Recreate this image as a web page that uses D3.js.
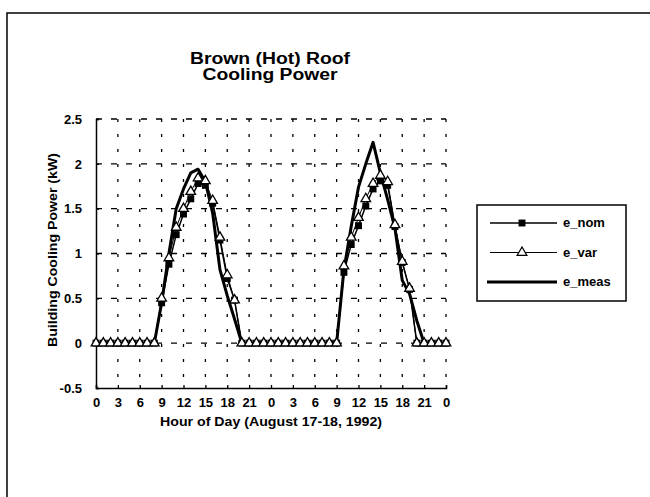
<!DOCTYPE html>
<html>
<head>
<meta charset="utf-8">
<script src="https://cdn.jsdelivr.net/npm/d3@7"></script>
<style>
  body { margin: 0; background: #fff; }
  text { font-family: "Liberation Sans", Arial, sans-serif; font-weight: bold; fill: #000; }
</style>
</head>
<body>
<script>
width  = 650
height = 497

// hour of day, two days (Aug 17-18)
var hours = [0,1,2,3,4,5,6,7,8,9,10,11,12,13,14,15,16,17,18,19,20,21,22,23,
             24,25,26,27,28,29,30,31,32,33,34,35,36,37,38,39,40,41,42,43,44,45,46,47,48];

var e_nom = [0,0,0,0,0,0,0,0,0,0.45,0.88,1.21,1.44,1.61,1.78,1.76,1.56,1.15,0.72,0.48,0,0,0,0,
             0,0,0,0,0,0,0,0,0,0,0.79,1.10,1.31,1.53,1.72,1.81,1.76,1.30,0.90,0.60,0,0,0,0,0];
var e_var = [0,0,0,0,0,0,0,0,0,0.50,0.95,1.29,1.50,1.69,1.84,1.81,1.59,1.18,0.76,0.48,0,0,0,0,
             0,0,0,0,0,0,0,0,0,0,0.86,1.18,1.40,1.61,1.78,1.87,1.80,1.32,0.91,0.61,0,0,0,0,0];
var e_meas = [0,0,0,0,0,0,0,0,0,0.45,1.00,1.50,1.72,1.90,1.94,1.80,1.45,0.82,0.53,0.27,0,0,0,0,
              0,0,0,0,0,0,0,0,0,0,0.82,1.30,1.74,2.00,2.24,1.90,1.60,1.28,0.70,0.55,0.25,0,0,0,0];

var xTicks = [0,3,6,9,12,15,18,21,24,27,30,33,36,39,42,45,48];
var xTickLabels = ["0","3","6","9","12","15","18","21","0","3","6","9","12","15","18","21","0"];
var yTicks = [-0.5,0,0.5,1,1.5,2,2.5];
var yTickLabels = ["-0.5","0","0.5","1","1.5","2","2.5"];

var seriesNames = ["e_nom","e_var","e_meas"];

const svg = d3.select('body').append('svg')
  .attr('width', width)
  .attr('height', height);

// page frame
svg.append("path")
  .attr("d", "M7,497 V13 H650")
  .attr("fill", "none")
  .attr("stroke", "#000")
  .attr("stroke-width", 1.5);

var x = d3.scaleLinear().domain([0, 48]).range([96, 446]);
var y = d3.scaleLinear().domain([-0.5, 2.5]).range([388, 119]);

// title (scanned font is wide, so stretch to the measured widths)
svg.append("text").attr("x", 270).attr("y", 64).attr("text-anchor", "middle")
  .style("font-size", "16px").attr("textLength", 160).attr("lengthAdjust", "spacingAndGlyphs")
  .text("Brown (Hot) Roof");
svg.append("text").attr("x", 270).attr("y", 80).attr("text-anchor", "middle")
  .style("font-size", "16px").attr("textLength", 135).attr("lengthAdjust", "spacingAndGlyphs")
  .text("Cooling Power");

// grid
var grid = svg.append("g").attr("stroke", "#000").attr("stroke-width", 1.3);
grid.selectAll("line.h")
  .data(yTicks.filter(d => d >= 0))
  .enter().append("line")
    .attr("x1", x(0)).attr("x2", x(48))
    .attr("y1", d => y(d)).attr("y2", d => y(d))
    .attr("stroke-dasharray", "6,9");
grid.selectAll("line.v")
  .data(xTicks.filter(d => d > 0))
  .enter().append("line")
    .attr("x1", d => x(d)).attr("x2", d => x(d))
    .attr("y1", y(2.5)).attr("y2", y(-0.5))
    .attr("stroke-dasharray", "3,12");

// axes
var xAxis = d3.axisBottom(x).tickValues(xTicks)
  .tickFormat((d, i) => xTickLabels[i]).tickSize(-3).tickPadding(10);
var gx = svg.append("g").attr("transform", "translate(0," + y(-0.5) + ")").call(xAxis);
gx.select(".domain").attr("stroke-width", 1.5);
gx.selectAll("text").style("font-size", "13px");

var yAxis = d3.axisLeft(y).tickValues(yTicks)
  .tickFormat((d, i) => yTickLabels[i]).tickSize(-3).tickPadding(14);
var gy = svg.append("g").attr("transform", "translate(" + x(0) + ",0)").call(yAxis);
gy.select(".domain").attr("stroke-width", 1.5);
gy.selectAll("text").style("font-size", "13px");
svg.selectAll(".tick line").attr("stroke-width", 1.3);

// axis titles
svg.append("text").attr("x", 271).attr("y", 426).attr("text-anchor", "middle")
  .style("font-size", "12px").attr("textLength", 222).attr("lengthAdjust", "spacingAndGlyphs")
  .text("Hour of Day (August 17-18, 1992)");
svg.append("text")
  .attr("transform", "translate(57,250) rotate(-90)")
  .attr("text-anchor", "middle")
  .style("font-size", "12px").attr("textLength", 194).attr("lengthAdjust", "spacingAndGlyphs")
  .text("Building Cooling Power (kW)");

// lines
var line = d3.line().x((d, i) => x(hours[i])).y(d => y(d));

svg.append("path").datum(e_meas)
  .attr("d", line).attr("fill", "none")
  .attr("stroke", "#000").attr("stroke-width", 3).attr("stroke-linejoin", "round");
svg.append("path").datum(e_nom)
  .attr("d", line).attr("fill", "none")
  .attr("stroke", "#000").attr("stroke-width", 1.5);
svg.append("path").datum(e_var)
  .attr("d", line).attr("fill", "none")
  .attr("stroke", "#000").attr("stroke-width", 1);

var square = d3.symbol().type(d3.symbolSquare).size(48);
var triangle = d3.symbol().type(d3.symbolTriangle).size(40);

svg.append("g").selectAll("path")
  .data(e_nom)
  .enter().append("path")
    .attr("d", square)
    .attr("transform", (d, i) => "translate(" + x(hours[i]) + "," + y(d) + ")")
    .attr("fill", "#000");

svg.append("g").selectAll("path")
  .data(e_var)
  .enter().append("path")
    .attr("d", triangle)
    .attr("transform", (d, i) => "translate(" + x(hours[i]) + "," + y(d) + ")")
    .attr("fill", "#fff").attr("stroke", "#000").attr("stroke-width", 1.3);

// legend
var legend = svg.append("g");
legend.append("rect")
  .attr("x", 477).attr("y", 205).attr("width", 149).attr("height", 96)
  .attr("fill", "#fff").attr("stroke", "#000").attr("stroke-width", 1.5);

var legY = d3.scalePoint().domain(seriesNames).range([223, 282]);
var legWidths = {e_nom: 1.5, e_var: 1, e_meas: 3};
var legStart = {e_nom: 490, e_var: 490, e_meas: 487};

legend.selectAll("line")
  .data(seriesNames)
  .enter().append("line")
    .attr("x1", d => legStart[d]).attr("x2", 557)
    .attr("y1", d => legY(d)).attr("y2", d => legY(d))
    .attr("stroke", "#000").attr("stroke-width", d => legWidths[d]);

legend.append("path").attr("d", square)
  .attr("transform", "translate(522," + legY("e_nom") + ")").attr("fill", "#000");
legend.append("path").attr("d", triangle)
  .attr("transform", "translate(522," + legY("e_var") + ")")
  .attr("fill", "#fff").attr("stroke", "#000").attr("stroke-width", 1.3);

legend.selectAll("text")
  .data(seriesNames)
  .enter().append("text")
    .attr("x", 563).attr("y", d => legY(d) + 4)
    .style("font-size", "13px")
    .text(d => d);
</script>
</body>
</html>
